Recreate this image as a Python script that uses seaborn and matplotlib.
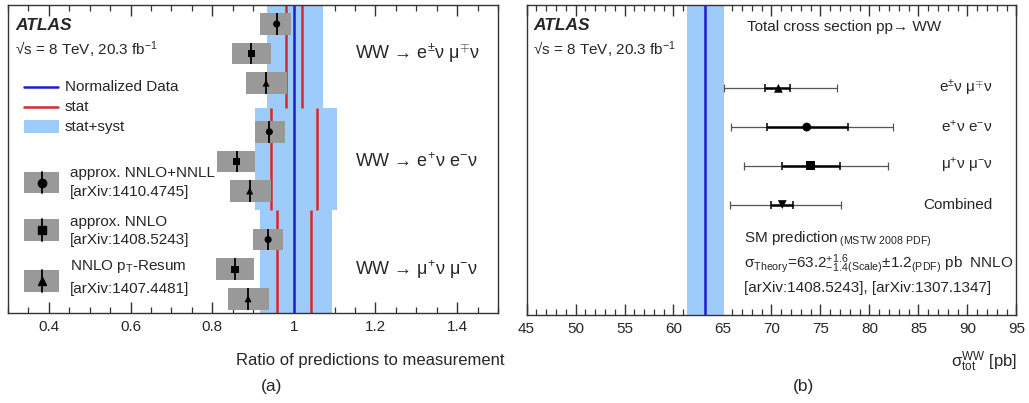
import numpy as np
import pandas as pd
import matplotlib
matplotlib.use("Agg")
import matplotlib.pyplot as plt
from matplotlib.patches import Rectangle
from matplotlib.lines import Line2D
from matplotlib.ticker import MultipleLocator, FormatStrFormatter
from matplotlib.transforms import blended_transform_factory
import seaborn as sns

# ---------------- panel (a): predictions divided by the measurement ----------------
channel_labels = [r"WW → e$^{\pm}$ν μ$^{\mp}$ν",
                  r"WW → e$^{+}$ν e$^{-}$ν",
                  r"WW → μ$^{+}$ν μ$^{-}$ν"]
stat_lo = [0.982, 0.943, 0.959]
stat_hi = [1.019, 1.057, 1.041]
total_lo = [0.935, 0.904, 0.917]
total_hi = [1.072, 1.106, 1.094]

prediction_names = ["approx. NNLO+NNLL", "approx. NNLO", r"NNLO p$_{\mathrm{T}}$-Resum"]
prediction_refs = ["[arXiv:1410.4745]", "[arXiv:1408.5243]", "[arXiv:1407.4481]"]
# per channel (eμ, ee, μμ): central ratio and band edges
nnll_ratio = [0.958, 0.940, 0.937]
nnll_lo = [0.918, 0.904, 0.900]
nnll_hi = [0.994, 0.978, 0.974]
nnlo_ratio = [0.896, 0.860, 0.856]
nnlo_lo = [0.849, 0.812, 0.810]
nnlo_hi = [0.945, 0.904, 0.902]
resum_ratio = [0.932, 0.892, 0.888]
resum_lo = [0.882, 0.843, 0.838]
resum_hi = [0.984, 0.943, 0.939]

# ---------------- panel (b): total cross section in pb ----------------
meas_labels = [r"e$^{\pm}$ν μ$^{\mp}$ν", r"e$^{+}$ν e$^{-}$ν", r"μ$^{+}$ν μ$^{-}$ν", "Combined"]
meas_xsec = [70.7, 73.6, 74.0, 71.1]
meas_stat_dn = [1.35, 4.1, 2.95, 1.1]
meas_stat_up = [1.2, 4.2, 3.0, 1.1]
meas_tot_dn = [5.5, 7.75, 6.8, 5.3]
meas_tot_up = [6.0, 8.75, 7.85, 6.0]

theory_xsec = 63.2
theory_scale_up = 1.6
theory_scale_dn = 1.4
theory_pdf = 1.2

# ---------------- styling ----------------
BAND = "#9dcbfa"
BLUE = "#1c1cd0"
RED = "#d42a2a"
GRAY = "#999999"
FRAME = "#333333"

sns.set_theme(style="ticks")
plt.rcParams["font.family"] = ["Liberation Sans", "DejaVu Sans"]
plt.rcParams["mathtext.fontset"] = "custom"
plt.rcParams["mathtext.rm"] = "Liberation Sans"
plt.rcParams["mathtext.it"] = "Liberation Sans:italic"
plt.rcParams["mathtext.bf"] = "Liberation Sans:bold"
plt.rcParams["mathtext.sf"] = "Liberation Sans"

W, H = 1029, 403
fig = plt.figure(figsize=(W / 100, H / 100), dpi=100)


def px(x, y):
    """Figure-fraction position from pixel coordinates (origin top-left)."""
    return x / W, 1 - y / H


axL = fig.add_axes([8 / W, 1 - 313 / H, 490 / W, 308 / H])
axR = fig.add_axes([526.5 / W, 1 - 315 / H, 490 / W, 310 / H])

for ax in (axL, axR):
    for sp in ax.spines.values():
        sp.set_color(FRAME)
        sp.set_linewidth(1.0)
        sp.set_visible(True)
    ax.tick_params(axis="y", left=False, right=False, labelleft=False)
    ax.tick_params(axis="x", which="both", direction="in", top=True, bottom=True,
                   color=FRAME, labelsize=11, pad=5)
    ax.tick_params(axis="x", which="major", length=8, width=1.0)
    ax.tick_params(axis="x", which="minor", length=4, width=0.9)

# ---------------- panel (a) ----------------
axL.set_xlim(0.3, 1.5)
axL.set_ylim(0, 3)
axL.xaxis.set_major_locator(MultipleLocator(0.2))
axL.xaxis.set_minor_locator(MultipleLocator(0.05))
axL.xaxis.set_major_formatter(FormatStrFormatter("%g"))

# row layout: three channel blocks, three predictions each
first_row, row_step, block_step = 2.815, 0.288, 1.05
box_h = 0.21

rows = []
for k in range(3):
    top, bottom = 3 - k, 2 - k
    axL.fill_betweenx([bottom, top], total_lo[k], total_hi[k], color=BAND, lw=0, zorder=1)
    axL.vlines([stat_lo[k], stat_hi[k]], bottom, top, color=RED, lw=1.8, zorder=2)
    for j, (c, lo, hi) in enumerate([(nnll_ratio, nnll_lo, nnll_hi),
                                     (nnlo_ratio, nnlo_lo, nnlo_hi),
                                     (resum_ratio, resum_lo, resum_hi)]):
        rows.append(dict(channel=k, prediction=j, ratio=c[k], lo=lo[k], hi=hi[k],
                         y=first_row - k * block_step - j * row_step))
pred = pd.DataFrame(rows)

axL.axvline(1.0, color=BLUE, lw=1.8, zorder=2)
axL.barh(pred["y"], pred["hi"] - pred["lo"], left=pred["lo"], height=box_h,
         color=GRAY, lw=0, zorder=3)
axL.vlines(pred["ratio"], pred["y"] - box_h / 2, pred["y"] + box_h / 2,
           color="black", lw=1.3, zorder=4)
pred["marker"] = pred["prediction"].map({0: "c", 1: "s", 2: "t"})
sns.scatterplot(data=pred, x="ratio", y="y", style="marker",
                markers={"c": "o", "s": "s", "t": "^"}, color="black",
                s=26, linewidth=0, legend=False, ax=axL, zorder=5)
axL.set_xlabel("")
axL.set_ylabel("")

yt = blended_transform_factory(axL.transAxes, axL.transData)
for k in range(3):
    axL.text(0.708, first_row - k * block_step - row_step, channel_labels[k],
             transform=yt, fontsize=13, va="center", ha="left")

fig.text(*px(15, 26), "ATLAS", fontsize=12.5, fontweight="bold", fontstyle="italic",
         va="center", ha="left")
fig.text(*px(15, 50), r"√s = 8 TeV, 20.3 fb$^{-1}$", fontsize=11, va="center", ha="left")

# legend for the measurement bands
fig.add_artist(Line2D([24 / W, 58 / W], [1 - 87.3 / H] * 2, color=BLUE, lw=1.8))
fig.text(*px(65, 87.3), "Normalized Data", fontsize=11, va="center")
fig.add_artist(Line2D([24 / W, 58 / W], [1 - 107 / H] * 2, color=RED, lw=1.8))
fig.text(*px(65, 107), "stat", fontsize=11, va="center")
fig.add_artist(Rectangle(px(24, 133), 35 / W, 13 / H, color=BAND, lw=0))
fig.text(*px(65, 126.5), "stat+syst", fontsize=11, va="center")

# legend for the predictions
leg_rows = [182.5, 230, 281]
leg_marks = ["o", "s", "^"]
for j in range(3):
    yc = leg_rows[j]
    fig.add_artist(Rectangle(px(24, yc + 10.8), 35.3 / W, 21.6 / H, color=GRAY, lw=0))
    fig.add_artist(Line2D([41.7 / W] * 2, [1 - (yc - 10.8) / H, 1 - (yc + 10.8) / H],
                          color="black", lw=1.3))
    fig.add_artist(Line2D([41.7 / W], [1 - yc / H], marker=leg_marks[j], color="black",
                          markersize=6, lw=0))
fig.text(*px(70, 173), prediction_names[0], fontsize=11, va="center")
fig.text(*px(70, 191.7), prediction_refs[0], fontsize=11, va="center")
fig.text(*px(70, 221.7), prediction_names[1], fontsize=11, va="center")
fig.text(*px(70, 240), prediction_refs[1], fontsize=11, va="center")
fig.text(*px(70, 266.7), prediction_names[2], fontsize=11, va="center")
fig.text(*px(70, 289.3), prediction_refs[2], fontsize=11, va="center")

fig.text(*px(505, 360), "Ratio of predictions to measurement", fontsize=12,
         va="center", ha="right")
fig.text(*px(271.7, 386.7), "(a)", fontsize=12.5, va="center", ha="center")

# ---------------- panel (b) ----------------
axR.set_xlim(45, 95)
axR.set_ylim(0, 8)
axR.xaxis.set_major_locator(MultipleLocator(5))
axR.xaxis.set_minor_locator(MultipleLocator(1))
axR.xaxis.set_major_formatter(FormatStrFormatter("%g"))

band_up = np.hypot(theory_scale_up, theory_pdf)
band_dn = np.hypot(theory_scale_dn, theory_pdf)
axR.axvspan(theory_xsec - band_dn, theory_xsec + band_up, color=BAND, lw=0, zorder=1)
axR.axvline(theory_xsec, color=BLUE, lw=1.8, zorder=2)

meas = pd.DataFrame(dict(label=meas_labels, xsec=meas_xsec,
                         stat_dn=meas_stat_dn, stat_up=meas_stat_up,
                         tot_dn=meas_tot_dn, tot_up=meas_tot_up))
meas["y"] = 5.85 - np.arange(len(meas))
meas["marker"] = ["t", "c", "s", "v"]

axR.errorbar(meas["xsec"], meas["y"], xerr=[meas["tot_dn"], meas["tot_up"]], fmt="none",
             ecolor="#555555", elinewidth=0.9, capsize=3.2, capthick=0.9, zorder=3)
axR.errorbar(meas["xsec"], meas["y"], xerr=[meas["stat_dn"], meas["stat_up"]], fmt="none",
             ecolor="black", elinewidth=1.8, capsize=3.2, capthick=1.1, zorder=4)
sns.scatterplot(data=meas, x="xsec", y="y", style="marker",
                markers={"t": "^", "c": "o", "s": "s", "v": "v"}, color="black",
                s=40, linewidth=0, legend=False, ax=axR, zorder=5)
axR.set_xlabel("")
axR.set_ylabel("")

yr = blended_transform_factory(axR.transAxes, axR.transData)
for i, row in meas.iterrows():
    axR.text(0.952, row["y"], row["label"], transform=yr, fontsize=11,
             va="center", ha="right")

fig.text(*px(533, 26), "ATLAS", fontsize=12.5, fontweight="bold", fontstyle="italic",
         va="center", ha="left")
fig.text(*px(533, 50), r"√s = 8 TeV, 20.3 fb$^{-1}$", fontsize=11, va="center", ha="left")
fig.text(*px(746.7, 26.7), "Total cross section pp→ WW", fontsize=11,
         va="center", ha="left")

fig.text(*px(744, 239), r"SM prediction$\,_{\mathrm{(MSTW\ 2008\ PDF)}}$", fontsize=11,
         va="center", ha="left")
fig.text(*px(744, 263.3),
         r"σ$_{\mathrm{Theory}}$=%.1f$^{+%.1f}_{-%.1f}$$_{\mathrm{(Scale)}}$±%.1f$_{\mathrm{(PDF)}}$ pb  NNLO"
         % (theory_xsec, theory_scale_up, theory_scale_dn, theory_pdf),
         fontsize=11, va="center", ha="left")
fig.text(*px(744, 288.3), "[arXiv:1408.5243], [arXiv:1307.1347]", fontsize=11,
         va="center", ha="left")

fig.text(*px(1016.7, 361.7), r"σ$_{\mathrm{tot}}^{\mathrm{WW}}$ [pb]", fontsize=12,
         va="center", ha="right")
fig.text(*px(803.3, 387), "(b)", fontsize=12.5, va="center", ha="center")

fig.savefig("out.png", dpi=100, facecolor="white")
